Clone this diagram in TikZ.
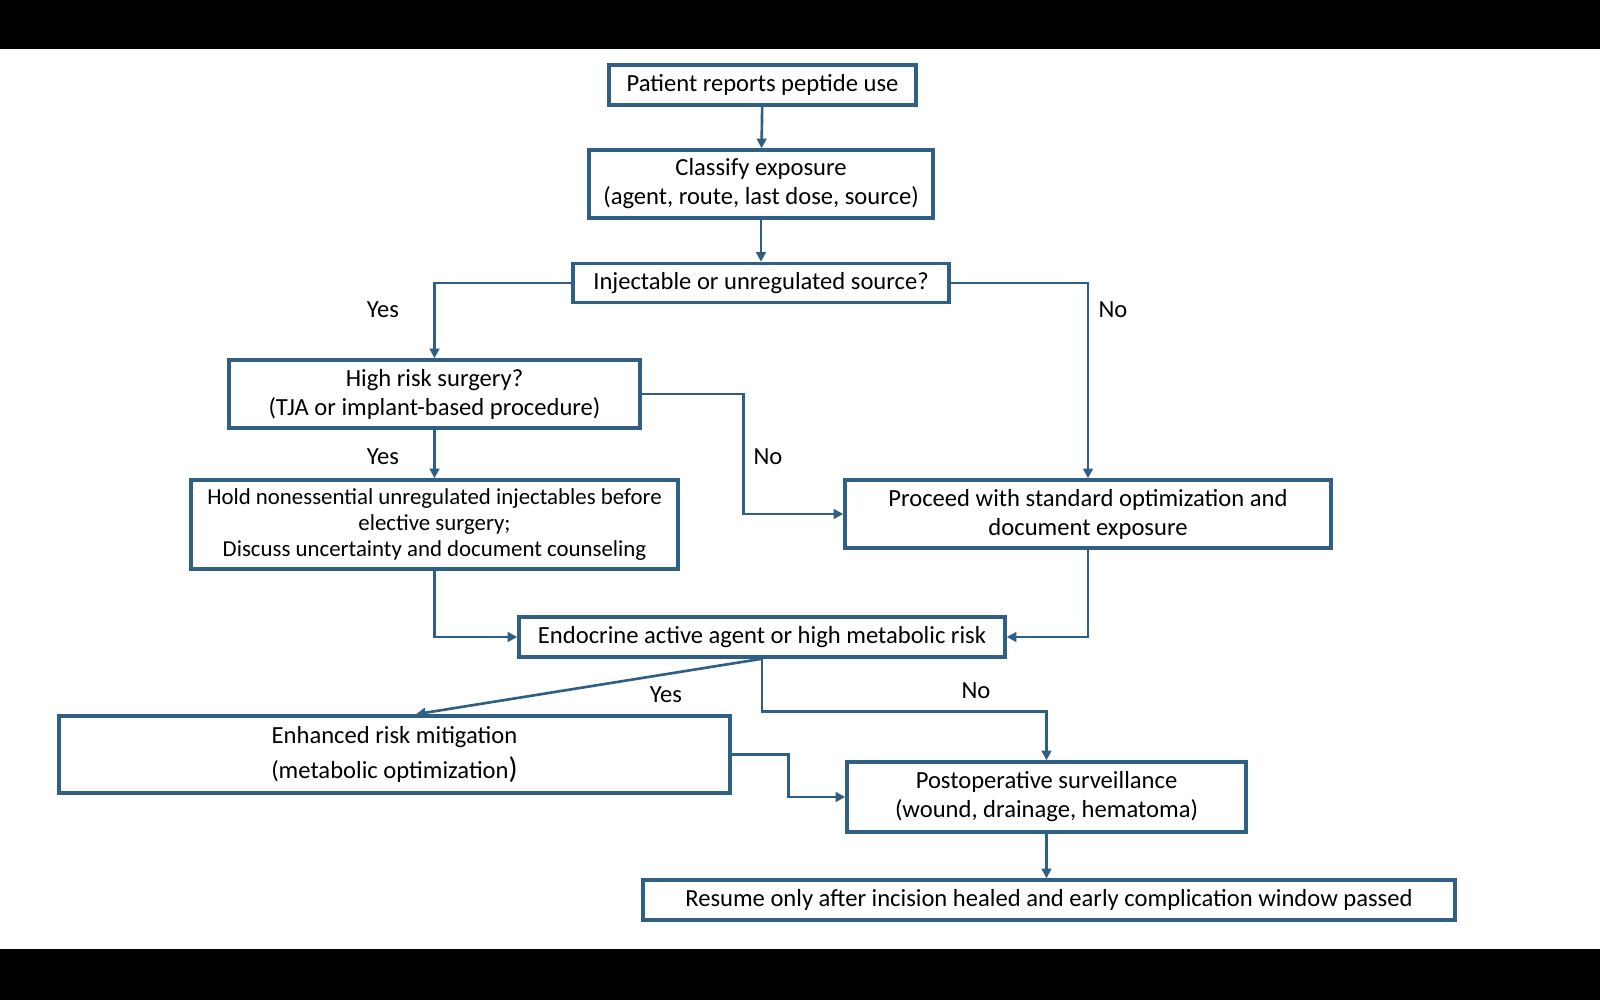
\documentclass[tikz,border=0pt]{standalone}
\usepackage{fontspec}
\setmainfont{Carlito}
\usetikzlibrary{arrows.meta}
\definecolor{flowblue}{HTML}{2F5F85}
\begin{document}
\begin{tikzpicture}[
    box/.style={draw=flowblue, line width=2pt, fill=white, align=center,
      inner sep=0pt, font=\fontsize{14}{16.5}\selectfont},
    lbl/.style={font=\fontsize{14}{16.5}\selectfont},
    flow/.style={draw=flowblue, line width=1.5pt,
      -{Triangle[length=5.5pt,width=5.5pt]}}
  ]
  \useasboundingbox (0,0) rectangle (32,-20);
  \fill[white] (0,0) rectangle (32,-20);
  \fill[black] (0,0) rectangle (32,-0.98);
  \fill[black] (0,-18.98) rectangle (32,-20);
  \draw
    (15.25,-1.70) node[box, minimum width=6.14cm, minimum height=0.80cm] (report){Patient reports peptide use}
    (15.22,-3.68) node[box, minimum width=6.88cm, minimum height=1.36cm] (classify){Classify exposure\\(agent, route, last dose, source)}
    (15.22,-5.66) node[box, minimum width=7.52cm, minimum height=0.78cm] (inject){Injectable or unregulated source?}
    (8.69,-7.88) node[box, minimum width=8.22cm, minimum height=1.36cm] (highrisk){High risk surgery?\\(TJA or implant-based procedure)}
    (8.69,-10.49) node[box, minimum width=9.74cm, minimum height=1.78cm, font=\fontsize{13}{15}\selectfont] (hold){Hold nonessential unregulated injectables before\\elective surgery;\\Discuss uncertainty and document counseling}
    (21.76,-10.28) node[box, minimum width=9.72cm, minimum height=1.36cm] (proceed){Proceed with standard optimization and\\document exposure}
    (15.24,-12.74) node[box, minimum width=9.72cm, minimum height=0.80cm] (endo){Endocrine active agent or high metabolic risk}
    (7.89,-15.09) node[box, minimum width=13.42cm, minimum height=1.54cm, font=\fontsize{14}{20}\selectfont] (mitig){Enhanced risk mitigation\\(metabolic optimization{\fontsize{17}{20}\selectfont)}}
    (20.93,-15.94) node[box, minimum width=7.98cm, minimum height=1.40cm] (postop){Postoperative surveillance\\(wound, drainage, hematoma)}
    (20.98,-18.00) node[box, minimum width=16.24cm, minimum height=0.80cm] (resume){Resume only after incision healed and early complication window passed};
  \draw
    (7.66,-6.20) node[lbl] (yes1){Yes}
    (22.26,-6.20) node[lbl] (no1){No}
    (7.66,-9.14) node[lbl] (yes2){Yes}
    (15.36,-9.14) node[lbl] (no2){No}
    (13.32,-13.90) node[lbl] (yes3){Yes}
    (19.52,-13.82) node[lbl] (no3){No};
  \begin{scope}[flow]
    \draw (report) to (classify);
    \draw (classify) to (inject);
    \draw (inject.west) -| (highrisk.north);
    \draw (inject.east) -| (proceed.north);
    \draw (highrisk.east) -- ++(2.04,0) |- (proceed.west);
    \draw (highrisk) to (hold);
    \draw (hold.south) |- (endo.west);
    \draw (proceed.south) |- (endo.east);
    \draw (endo.south) -- ([xshift=0.43cm]mitig.north);
    \draw (endo.south) -- ++(0,-1.06) -| (postop.north);
    \draw (mitig.east) -- ++(1.14,0) |- (postop.west);
    \draw (postop.south) -- (postop.south |- resume.north);
  \end{scope}
\end{tikzpicture}
\end{document}
